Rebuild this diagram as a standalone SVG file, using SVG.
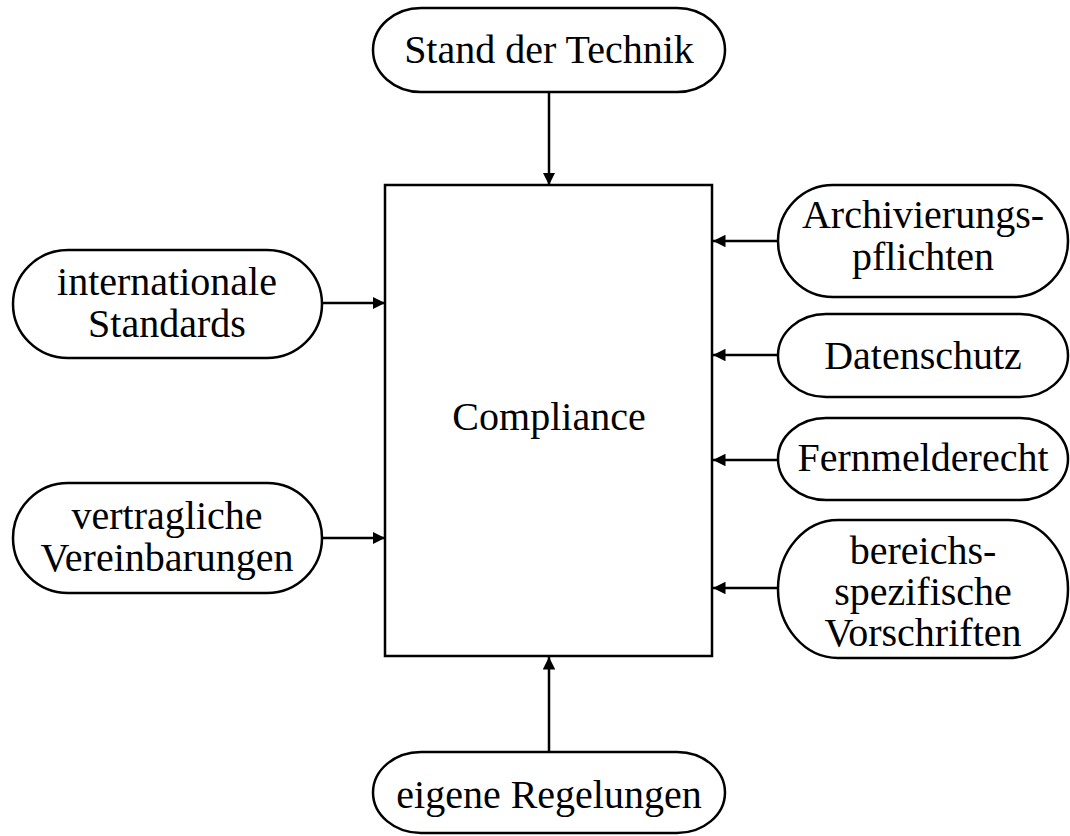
<svg xmlns="http://www.w3.org/2000/svg" width="1070" height="836" viewBox="0 0 1070 836">
<defs>
<style>
.n{fill:#fff;stroke:#000;stroke-width:2.5}
.t{font-family:"Liberation Serif","Times New Roman",serif;font-size:40px;fill:#000;text-anchor:middle}
.c{stroke:#000;stroke-width:2.5;fill:none;marker-end:url(#ah)}
</style>
<marker id="ah" viewBox="0 0 10 10" refX="10" refY="5" markerWidth="5" markerHeight="5" orient="auto" markerUnits="strokeWidth">
<path d="M0,0 L10,5 L0,10 z" fill="#000"/>
</marker>
</defs>
<rect width="1070" height="836" fill="#fff"/>
<g id="connectors">
<line class="c" x1="549" y1="92" x2="549" y2="185"/>
<line class="c" x1="549" y1="752" x2="549" y2="657"/>
<line class="c" x1="322" y1="303" x2="385" y2="303"/>
<line class="c" x1="322" y1="538" x2="385" y2="538"/>
<line class="c" x1="778" y1="241" x2="713" y2="241"/>
<line class="c" x1="778" y1="355" x2="713" y2="355"/>
<line class="c" x1="778" y1="460" x2="713" y2="460"/>
<line class="c" x1="778" y1="588" x2="713" y2="588"/>
</g>
<g id="compliance">
<rect class="n" x="385" y="185" width="327" height="471"/>
<text class="t" x="549" y="430">Compliance</text>
</g>
<g id="stand">
<rect class="n" x="373" y="8" width="352" height="84" rx="48" ry="42"/>
<text class="t" x="549" y="63">Stand der Technik</text>
</g>
<g id="eigene">
<rect class="n" x="373" y="752" width="352" height="81" rx="48" ry="40.5"/>
<text class="t" x="549" y="808">eigene Regelungen</text>
</g>
<g id="international">
<rect class="n" x="13" y="250" width="309" height="108" rx="55" ry="54"/>
<text class="t" x="167" y="295">internationale</text>
<text class="t" x="167" y="337">Standards</text>
</g>
<g id="vertraglich">
<rect class="n" x="13" y="483" width="309" height="110" rx="55" ry="55"/>
<text class="t" x="167" y="529">vertragliche</text>
<text class="t" x="167" y="571">Vereinbarungen</text>
</g>
<g id="archiv">
<rect class="n" x="778" y="185" width="290" height="112" rx="55" ry="56"/>
<text class="t" x="923" y="228">Archivierungs-</text>
<text class="t" x="923" y="270">pflichten</text>
</g>
<g id="datenschutz">
<rect class="n" x="778" y="314" width="290" height="83" rx="48" ry="41.5"/>
<text class="t" x="923" y="369">Datenschutz</text>
</g>
<g id="fernmelde">
<rect class="n" x="778" y="418" width="290" height="82" rx="48" ry="41"/>
<text class="t" x="923" y="471">Fernmelderecht</text>
</g>
<g id="bereich">
<rect class="n" x="778" y="520" width="290" height="138" rx="60" ry="69"/>
<text class="t" x="923" y="564">bereichs-</text>
<text class="t" x="923" y="605">spezifische</text>
<text class="t" x="923" y="646">Vorschriften</text>
</g>
</svg>
